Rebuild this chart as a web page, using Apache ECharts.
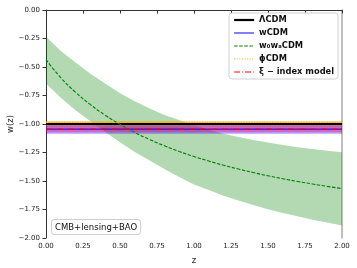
<!DOCTYPE html>
<html>
<head>
<meta charset="utf-8">
<script src="https://cdn.jsdelivr.net/npm/echarts@6/dist/echarts.min.js"></script>
<style>html,body{margin:0;padding:0;background:#fff}#c{width:357px;height:268px}</style>
</head>
<body>
<div id="c"></div>
<script>
// ---- data ----
const zGrid    = [0, 0.1, 0.2, 0.3, 0.4, 0.5, 0.6, 0.7, 0.8, 0.9, 1.0, 1.1, 1.2, 1.3, 1.4, 1.5, 1.6, 1.7, 1.8, 1.9, 2.0];
const w0waMid  = [-0.435, -0.594, -0.722, -0.830, -0.923, -1.003, -1.074, -1.136, -1.191, -1.241, -1.285, -1.325, -1.362, -1.395, -1.426, -1.454, -1.480, -1.504, -1.526, -1.547, -1.567];
const w0waUp   = [-0.235, -0.36, -0.46, -0.56, -0.645, -0.73, -0.80, -0.865, -0.92, -0.965, -1.01, -1.05, -1.085, -1.115, -1.14, -1.163, -1.185, -1.203, -1.22, -1.235, -1.247];
const w0waLow  = [-0.645, -0.77, -0.88, -0.975, -1.07, -1.16, -1.245, -1.32, -1.395, -1.465, -1.53, -1.58, -1.63, -1.67, -1.71, -1.748, -1.78, -1.81, -1.84, -1.865, -1.89];
const zEnds    = [0, 2];
const lcdmW    = [-1.0, -1.0];
const wcdmW    = [-1.045, -1.045];
const wcdmLow  = [-1.085, -1.085];
const wcdmUp   = [-1.005, -1.005];
const phiW     = [-0.985, -0.985];
const phiLow   = [-1.025, -1.025];
const phiUp    = [-0.975, -0.975];
const xiW      = [-1.045, -1.045];
const xiLow    = [-1.07, -1.07];
const xiUp     = [-1.02, -1.02];
const names    = ['ΛCDM', 'wCDM', 'w₀wₐCDM', 'ϕCDM', 'ξ − index model'];

const pairs = (xs, ys) => xs.map((x, i) => [x, ys[i]]);
function band(xs, lo, hi, color, z) {
  return {
    type: 'custom', silent: true, z: z, clip: true,
    data: [[xs[0], lo[0]]],
    renderItem: function (params, api) {
      const pts = [];
      for (let i = 0; i < xs.length; i++) pts.push(api.coord([xs[i], hi[i]]));
      for (let i = xs.length - 1; i >= 0; i--) pts.push(api.coord([xs[i], lo[i]]));
      return { type: 'polygon', shape: { points: pts }, style: { fill: color } };
    }
  };
}
const fmt = v => (Math.abs(v) < 1e-9 ? '0.00' : v.toFixed(2).replace('-', '\u2212'));
const noSym = { color: 'rgba(0,0,0,0)', borderWidth: 0 };

const chart = echarts.init(document.getElementById('c'), null, { renderer: 'canvas' });
chart.setOption({
  animation: false,
  backgroundColor: '#fff',
  grid: { left: 46, right: 15, top: 10, bottom: 30, containLabel: false, outerBoundsMode: 'none' },
  xAxis: {
    type: 'value', min: 0, max: 2, interval: 0.25,
    name: 'z', nameLocation: 'middle', nameGap: 18, nameMoveOverlap: false,
    nameTextStyle: { fontFamily: 'DejaVu Sans', fontSize: 8.5, color: '#222' },
    axisLine: { lineStyle: { color: '#333', width: 1 } },
    axisTick: { length: 3.5, lineStyle: { color: '#333' } },
    axisLabel: { fontFamily: 'DejaVu Sans', fontSize: 7, color: '#222', margin: 5, formatter: fmt },
    splitLine: { show: false }
  },
  yAxis: [{
    type: 'value', min: -2, max: 0, interval: 0.25,
    name: 'w(z)', nameLocation: 'middle', nameGap: 31, nameMoveOverlap: false,
    nameTextStyle: { fontFamily: 'DejaVu Sans', fontSize: 8.5, color: '#222' },
    axisLine: { show: true, lineStyle: { color: '#333', width: 1 } },
    axisTick: { show: true, length: 3.5, lineStyle: { color: '#333' } },
    axisLabel: { fontFamily: 'DejaVu Sans', fontSize: 7, color: '#222', margin: 6, formatter: fmt },
    splitLine: { show: false }
  }, {
    type: 'value', min: -2, max: 0, interval: 0.25, position: 'right',
    axisLine: { show: true, lineStyle: { color: '#aaa', width: 1.5 } },
    axisTick: { show: false }, axisLabel: { show: false }, splitLine: { show: false }
  }],
  legend: {
    orient: 'vertical', left: 229, top: 13,
    padding: [3, 4, 3, 4], itemGap: 5, itemWidth: 20, itemHeight: 8,
    backgroundColor: 'rgba(255,255,255,0.85)', borderColor: '#d0d0d0', borderWidth: 1, borderRadius: 3,
    textStyle: { fontFamily: 'DejaVu Sans', fontSize: 8.3, fontWeight: 'bold', color: '#111' },
    itemStyle: { opacity: 0 },
    lineStyle: { width: 'inherit' },
    data: names
  },
  graphic: [{
    type: 'text', left: 51, top: 219, z: 100,
    style: {
      text: 'CMB+lensing+BAO', fontFamily: 'DejaVu Sans', fontSize: 8.5, fill: '#111',
      backgroundColor: '#fff', borderColor: '#d0d0d0', borderWidth: 1, borderRadius: 3, padding: [3, 3, 2, 3]
    }
  }],
  series: [
    band(zGrid, w0waLow, w0waUp, 'rgba(0,128,0,0.30)', 1),
    band(zEnds, phiLow, phiUp, 'rgba(255,165,0,0.6)', 2),
    band(zEnds, wcdmLow, wcdmUp, 'rgba(80,0,255,0.40)', 2),
    band(zEnds, xiLow, xiUp, 'rgba(255,0,80,0.32)', 2),
    { name: names[0], type: 'line', data: pairs(zEnds, lcdmW), symbol: 'none', z: 5,
      lineStyle: { color: '#000', width: 2.2 }, itemStyle: noSym },
    { name: names[1], type: 'line', data: pairs(zEnds, wcdmW), symbol: 'none', z: 5,
      lineStyle: { color: '#0000ff', width: 1 }, itemStyle: noSym },
    { name: names[2], type: 'line', data: pairs(zGrid, w0waMid), symbol: 'none', smooth: true, z: 5,
      lineStyle: { color: '#008000', width: 1.1, type: [3.5, 1.6] }, itemStyle: noSym },
    { name: names[3], type: 'line', data: pairs(zEnds, phiW), symbol: 'none', z: 5,
      lineStyle: { color: '#ffa500', width: 1, type: [1, 1.6] }, itemStyle: noSym },
    { name: names[4], type: 'line', data: pairs(zEnds, xiW), symbol: 'none', z: 6,
      lineStyle: { color: '#ff0000', width: 1, type: [6, 2, 1, 2] }, itemStyle: noSym }
  ]
});
</script>
</body>
</html>
